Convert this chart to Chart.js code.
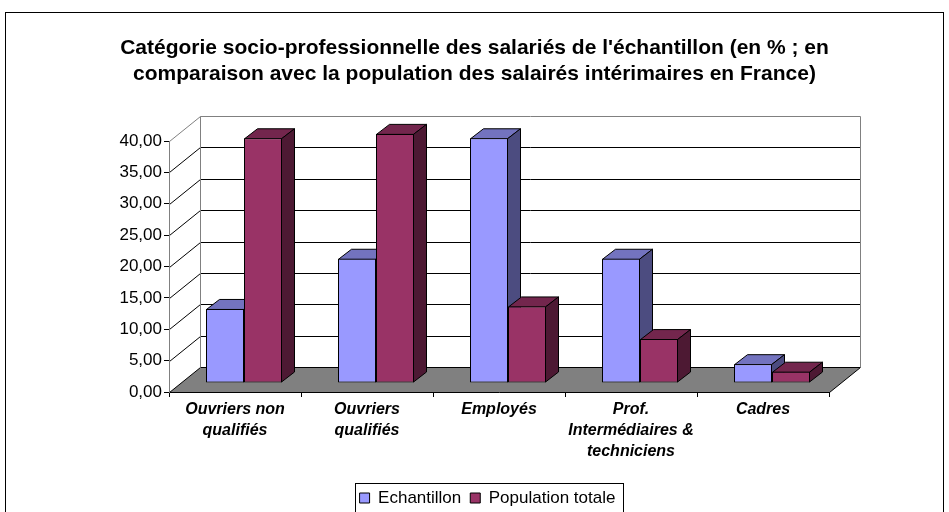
<!DOCTYPE html>
<html>
<head>
<meta charset="utf-8">
<script src="https://cdn.jsdelivr.net/npm/chart.js@4"></script>
<style>
  body { margin: 0; background: #fff; }
</style>
</head>
<body>
<canvas id="myChart" width="949" height="512"></canvas>
<script>
const categories = [
    ['Ouvriers non', 'qualifiés'],
    ['Ouvriers', 'qualifiés'],
    'Employés',
    ['Prof.', 'Intermédiaires &', 'techniciens'],
    'Cadres'
];
const echantillon = [11.8, 19.8, 39.0, 19.8, 3.0];
const population = [39.0, 39.7, 12.2, 7.0, 1.8];
const yMin = 0;
const yMax = 40;
const yStep = 5;

// offsets used for the pseudo 3D look
const wallDepth = { x: 31, y: -25 };  // front plane -> back wall
const barShift = { x: 9, y: -9 };     // front plane -> front face of the columns
const barDepth = { x: 13, y: -10 };   // thickness of a column

const faceColors = [
    { top: '#7373bf', side: '#4c4c80' },
    { top: '#73264d', side: '#4d1933' }
];

Chart.defaults.font.family = 'Arial, "Liberation Sans", sans-serif';
Chart.defaults.color = '#000';

function face(ctx, pts, fill)
{
    ctx.beginPath();
    ctx.moveTo(pts[0][0], pts[0][1]);
    for (let i = 1; i < pts.length; i++) ctx.lineTo(pts[i][0], pts[i][1]);
    ctx.closePath();
    ctx.fillStyle = fill;
    ctx.fill();
    ctx.stroke();
}

const frame3d = {
    id: 'frame3d',
    afterLayout(chart) {
        // legend sits a bit right of the page centre
        chart.legend.left += 13;
        chart.legend.right += 13;
    },
    beforeDraw(chart) {
        const { ctx, chartArea: a, scales: { y } } = chart;
        const dx = wallDepth.x, dy = wallDepth.y;
        const L = Math.round(a.left) + 0.5;
        const R = Math.round(a.right) + 0.5;
        const B = Math.round(a.bottom) + 0.5;
        ctx.save();
        ctx.fillStyle = '#fff';
        ctx.fillRect(0, 0, chart.width, chart.height);
        ctx.lineWidth = 1;
        ctx.strokeStyle = '#000';
        ctx.strokeRect(5.5, 12.5, 938, 520);

        // floor
        ctx.fillStyle = '#808080';
        ctx.beginPath();
        ctx.moveTo(L, B);
        ctx.lineTo(R, B);
        ctx.lineTo(R + dx, B + dy);
        ctx.lineTo(L + dx, B + dy);
        ctx.closePath();
        ctx.fill();
        ctx.beginPath();
        ctx.moveTo(R, B);
        ctx.lineTo(R + dx, B + dy);
        ctx.stroke();

        // gridlines on the side wall and back wall
        for (let v = yMin; v < yMax; v += yStep) {
            const py = Math.round(y.getPixelForValue(v)) + 0.5;
            ctx.beginPath();
            ctx.moveTo(L, py);
            ctx.lineTo(L + dx, py + dy);
            ctx.lineTo(R + dx, py + dy);
            ctx.stroke();
        }

        // wall edges
        const T = Math.round(y.getPixelForValue(yMax)) + 0.5;
        ctx.strokeStyle = '#808080';
        ctx.beginPath();
        ctx.moveTo(L, T);
        ctx.lineTo(L + dx, T + dy);
        ctx.lineTo(R + dx, T + dy);
        ctx.lineTo(R + dx, B + dy);
        ctx.moveTo(L + dx, T + dy);
        ctx.lineTo(L + dx, B + dy);
        ctx.stroke();
        ctx.restore();
    },
    beforeDatasetsDraw(chart) {
        const { ctx } = chart;
        const bx = barDepth.x, by = barDepth.y;
        ctx.save();
        ctx.translate(barShift.x, barShift.y);
        ctx.lineWidth = 1;
        ctx.strokeStyle = '#000';
        for (let i = 0; i < categories.length; i++) {
            chart.data.datasets.forEach((ds, d) => {
                const bar = chart.getDatasetMeta(d).data[i];
                const { x, y, base, width } = bar.getProps(['x', 'y', 'base', 'width'], true);
                const l = x - width / 2 + 0.5, r = x + width / 2 - 0.5;
                const t = y + 0.5;
                const b = base - 0.5;
                face(ctx, [[l, t], [r, t], [r + bx, t + by], [l + bx, t + by]], faceColors[d].top);
                face(ctx, [[r, t], [r + bx, t + by], [r + bx, b + by], [r, b]], faceColors[d].side);
            });
        }
        ctx.restore();
        // front faces come from the bar controller, moved back to the column plane
        ctx.save();
        ctx.translate(barShift.x, barShift.y);
    },
    afterDatasetsDraw(chart) {
        chart.ctx.restore();
    },
    afterDraw(chart) {
        const { ctx } = chart;
        const hb = chart.legend.legendHitBoxes;
        const first = hb[0], last = hb[hb.length - 1];
        const x0 = Math.round(first.left - 5) + 0.5;
        const x1 = Math.round(last.left + last.width + 8) + 0.5;
        const y0 = Math.round(first.top - 6.5) + 0.5;
        ctx.save();
        ctx.strokeStyle = '#000';
        ctx.lineWidth = 1;
        ctx.strokeRect(x0, y0, x1 - x0, 40);
        ctx.restore();
    }
};

const ctx = document.getElementById('myChart').getContext('2d');
const myChart = new Chart(ctx, {
    type: 'bar',
    data: {
        labels: categories,
        datasets: [{
            label: 'Echantillon',
            data: echantillon,
            backgroundColor: '#9999ff',
            borderColor: '#000',
            borderWidth: 1,
            borderSkipped: false,
            categoryPercentage: 76 / 132,
            barPercentage: 1,
            clip: false
        }, {
            label: 'Population totale',
            data: population,
            backgroundColor: '#993366',
            borderColor: '#000',
            borderWidth: 1,
            borderSkipped: false,
            categoryPercentage: 76 / 132,
            barPercentage: 1,
            clip: false
        }]
    },
    options: {
        responsive: false,
        animation: false,
        devicePixelRatio: 1,
        layout: { padding: { top: 20, left: 0, right: 0, bottom: 0 } },
        plugins: {
            title: {
                display: true,
                text: [
                    "Catégorie socio-professionnelle des salariés de l'échantillon (en % ; en",
                    'comparaison avec la population des salairés intérimaires en France)'
                ],
                color: '#000',
                font: { size: 21, weight: 'bold', lineHeight: '26px' },
                padding: { top: 15, bottom: 54 }
            },
            legend: {
                position: 'bottom',
                maxHeight: 31.5,
                labels: {
                    boxWidth: 10,
                    boxHeight: 10,
                    padding: 9,
                    color: '#000',
                    font: { size: 17 }
                }
            },
            tooltip: { enabled: false }
        },
        scales: {
            x: {
                grid: { drawOnChartArea: false, tickLength: 5, color: '#000', offset: true },
                border: { color: '#000' },
                ticks: {
                    maxRotation: 0,
                    autoSkip: false,
                    padding: 2.5,
                    color: '#000',
                    font: { size: 16, weight: 'bold', style: 'italic', lineHeight: '21px' }
                },
                afterFit(scale) { scale.height = 88.5; }
            },
            y: {
                min: yMin,
                max: yMax,
                ticks: {
                    stepSize: yStep,
                    padding: 2,
                    color: '#000',
                    font: { size: 17 },
                    callback: v => v.toFixed(2).replace('.', ',')
                },
                grid: { drawOnChartArea: false, tickLength: 5, tickColor: '#000' },
                border: { color: '#808080' },
                afterFit(scale) { scale.width = 169; }
            },
            y2: {
                type: 'linear',
                position: 'right',
                grid: { display: false },
                ticks: { display: false },
                border: { display: false },
                afterFit(scale) { scale.width = 120; }
            }
        }
    },
    plugins: [frame3d]
});
</script>
</body>
</html>
